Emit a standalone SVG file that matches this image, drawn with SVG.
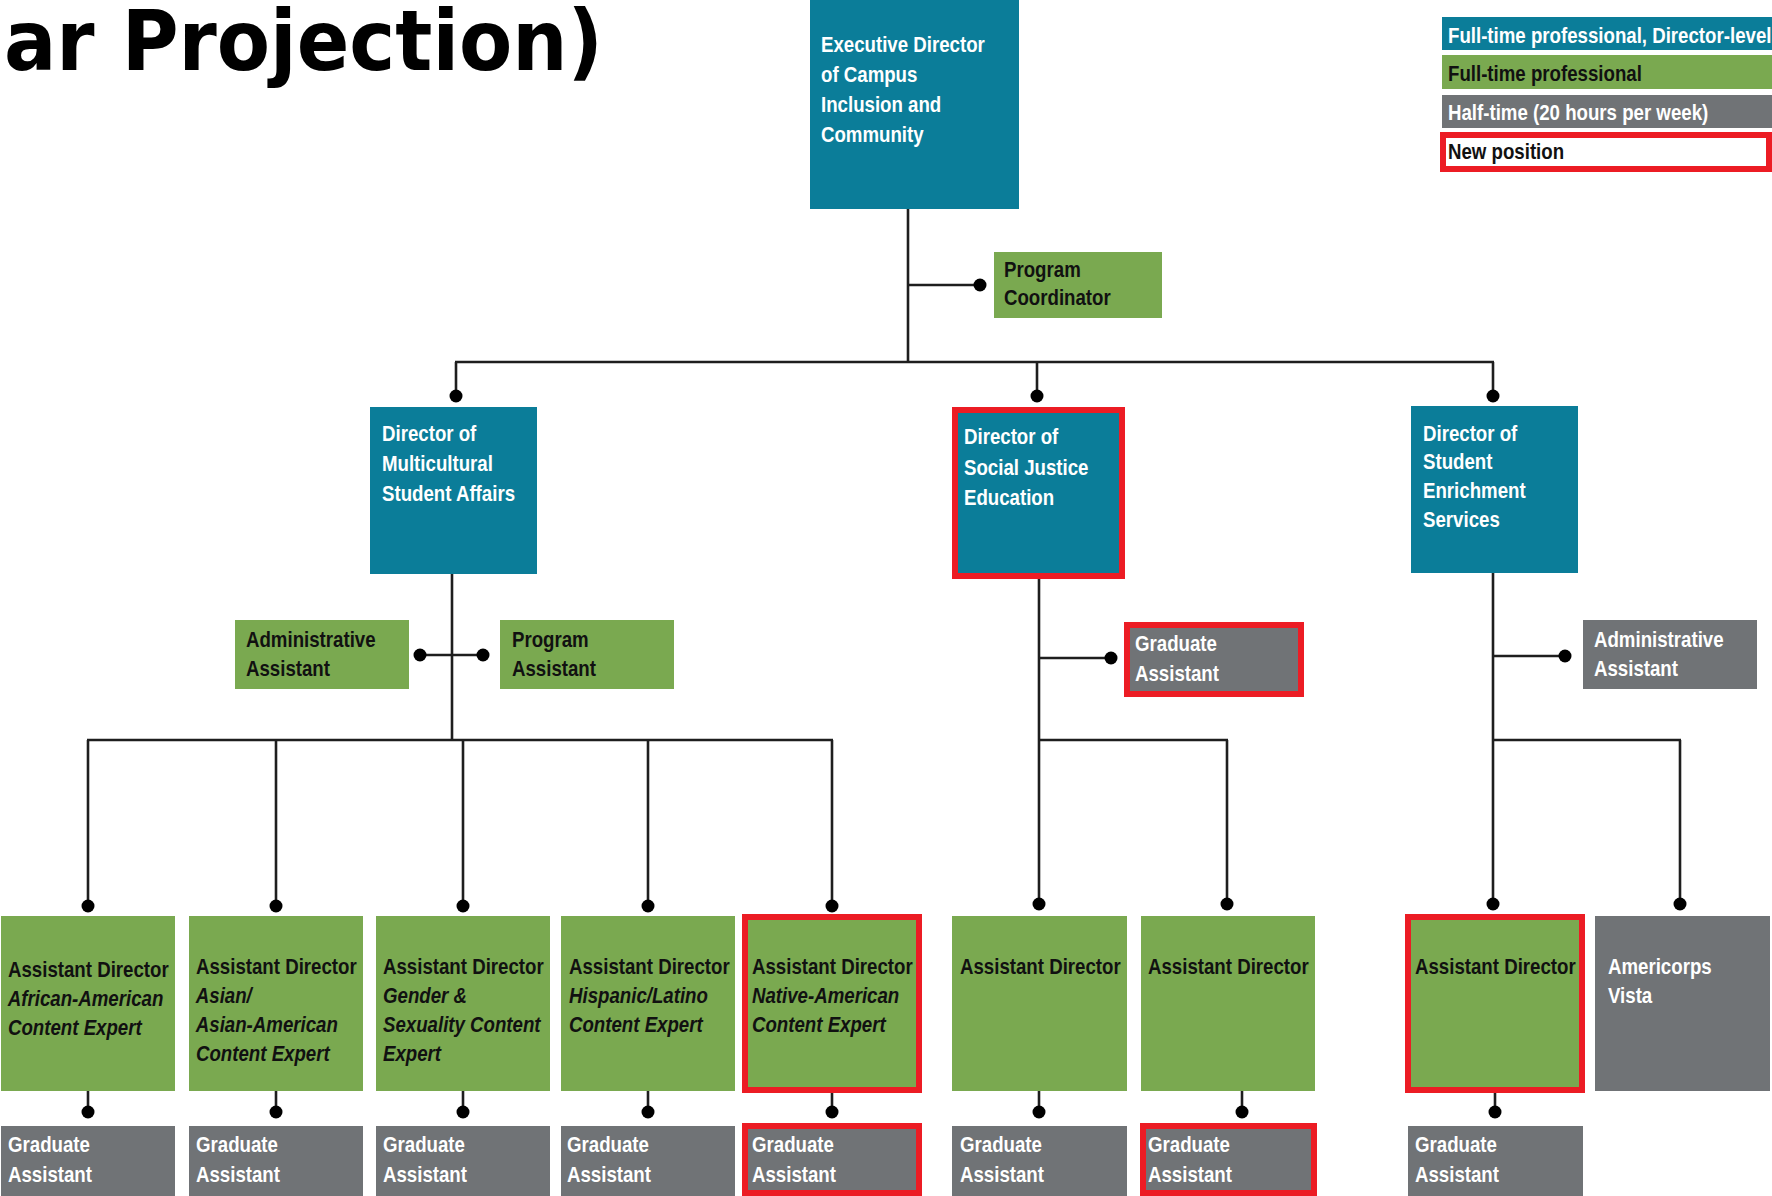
<svg xmlns="http://www.w3.org/2000/svg" width="1772" height="1196" viewBox="0 0 1772 1196">
<style>
.teal{fill:#0b7d99}
.green{fill:#7aa950}
.gray{fill:#707376}
.newpos{stroke:#ec1c24;stroke-width:6}
.t{font-family:'Liberation Sans',Arial,sans-serif;font-weight:bold;font-size:22.5px;transform:scaleX(0.83);transform-box:fill-box;transform-origin:0 0}
.w{fill:#ffffff}
.b{fill:#111111}
.i{font-style:italic}
.conn line{stroke:#1e1e1e;stroke-width:2.6}
.conn circle{fill:#000000}
.title{font-family:'DejaVu Sans','Liberation Sans',sans-serif;font-weight:bold;font-size:84px;fill:#000}
</style>
<rect width="1772" height="1196" fill="#ffffff"/>
<text class="title" x="4" y="70" textLength="599" lengthAdjust="spacingAndGlyphs">ar Projection)</text>

<g id="legend">
<rect class="teal" x="1442" y="17" width="330" height="33"/>
<text class="t w" x="1448" y="43">Full-time professional, Director-level</text>
<rect class="green" x="1442" y="55" width="330" height="34"/>
<text class="t b" x="1448" y="81">Full-time professional</text>
<rect class="gray" x="1442" y="95" width="330" height="33"/>
<text class="t w" x="1448" y="120">Half-time (20 hours per week)</text>
<rect class="newpos" x="1443" y="135" width="326" height="34" fill="#ffffff"/>
<text class="t b" x="1448" y="159">New position</text>
</g>

<g id="connectors" class="conn">
<line x1="908" y1="209" x2="908" y2="362"/>
<line x1="908" y1="285" x2="980" y2="285"/>
<circle cx="980" cy="285" r="6.5"/>
<line x1="455" y1="362" x2="1494" y2="362"/>
<line x1="456" y1="362" x2="456" y2="396"/>
<line x1="1037" y1="362" x2="1037" y2="396"/>
<line x1="1493" y1="362" x2="1493" y2="396"/>
<circle cx="456" cy="396" r="6.5"/>
<circle cx="1037" cy="396" r="6.5"/>
<circle cx="1493" cy="396" r="6.5"/>
<line x1="452" y1="574" x2="452" y2="740"/>
<line x1="420" y1="655" x2="483" y2="655"/>
<circle cx="420" cy="655" r="6.5"/>
<circle cx="483" cy="655" r="6.5"/>
<line x1="87" y1="740" x2="833" y2="740"/>
<line x1="88" y1="740" x2="88" y2="906"/>
<line x1="276" y1="740" x2="276" y2="906"/>
<line x1="463" y1="740" x2="463" y2="906"/>
<line x1="648" y1="740" x2="648" y2="906"/>
<line x1="832" y1="740" x2="832" y2="906"/>
<circle cx="88" cy="906" r="6.5"/>
<circle cx="276" cy="906" r="6.5"/>
<circle cx="463" cy="906" r="6.5"/>
<circle cx="648" cy="906" r="6.5"/>
<circle cx="832" cy="906" r="6.5"/>
<line x1="1039" y1="579" x2="1039" y2="904"/>
<line x1="1039" y1="658" x2="1111" y2="658"/>
<circle cx="1111" cy="658" r="6.5"/>
<line x1="1039" y1="740" x2="1228" y2="740"/>
<line x1="1227" y1="740" x2="1227" y2="904"/>
<circle cx="1039" cy="904" r="6.5"/>
<circle cx="1227" cy="904" r="6.5"/>
<line x1="1493" y1="573" x2="1493" y2="904"/>
<line x1="1493" y1="656" x2="1565" y2="656"/>
<circle cx="1565" cy="656" r="6.5"/>
<line x1="1493" y1="740" x2="1681" y2="740"/>
<line x1="1680" y1="740" x2="1680" y2="904"/>
<circle cx="1493" cy="904" r="6.5"/>
<circle cx="1680" cy="904" r="6.5"/>
<line x1="88" y1="1091" x2="88" y2="1112"/>
<line x1="276" y1="1091" x2="276" y2="1112"/>
<line x1="463" y1="1091" x2="463" y2="1112"/>
<line x1="648" y1="1091" x2="648" y2="1112"/>
<line x1="832" y1="1093" x2="832" y2="1112"/>
<line x1="1039" y1="1091" x2="1039" y2="1112"/>
<line x1="1242" y1="1091" x2="1242" y2="1112"/>
<line x1="1495" y1="1093" x2="1495" y2="1112"/>
<circle cx="88" cy="1112" r="6.5"/>
<circle cx="276" cy="1112" r="6.5"/>
<circle cx="463" cy="1112" r="6.5"/>
<circle cx="648" cy="1112" r="6.5"/>
<circle cx="832" cy="1112" r="6.5"/>
<circle cx="1039" cy="1112" r="6.5"/>
<circle cx="1242" cy="1112" r="6.5"/>
<circle cx="1495" cy="1112" r="6.5"/>
</g>

<g id="exec">
<rect class="teal" x="810" y="0" width="209" height="209"/>
<text class="t w" x="821" y="52">Executive Director</text>
<text class="t w" x="821" y="82">of Campus</text>
<text class="t w" x="821" y="112">Inclusion and</text>
<text class="t w" x="821" y="142">Community</text>
</g>
<g id="program-coordinator">
<rect class="green" x="994" y="252" width="168" height="66"/>
<text class="t b" x="1004" y="277">Program</text>
<text class="t b" x="1004" y="305">Coordinator</text>
</g>

<g id="dir-msa">
<rect class="teal" x="370" y="407" width="167" height="167"/>
<text class="t w" x="382" y="441">Director of</text>
<text class="t w" x="382" y="471">Multicultural</text>
<text class="t w" x="382" y="501">Student Affairs</text>
</g>
<g id="admin-msa">
<rect class="green" x="235" y="620" width="174" height="69"/>
<text class="t b" x="246" y="647">Administrative</text>
<text class="t b" x="246" y="676">Assistant</text>
</g>
<g id="prog-asst">
<rect class="green" x="500" y="620" width="174" height="69"/>
<text class="t b" x="512" y="647">Program</text>
<text class="t b" x="512" y="676">Assistant</text>
</g>

<g id="dir-sje">
<rect class="teal newpos" x="955" y="410" width="167" height="166"/>
<text class="t w" x="964" y="444">Director of</text>
<text class="t w" x="964" y="475">Social Justice</text>
<text class="t w" x="964" y="505">Education</text>
</g>
<g id="ga-sje">
<rect class="gray newpos" x="1127" y="625" width="174" height="69"/>
<text class="t w" x="1135" y="651">Graduate</text>
<text class="t w" x="1135" y="681">Assistant</text>
</g>

<g id="dir-ses">
<rect class="teal" x="1411" y="406" width="167" height="167"/>
<text class="t w" x="1423" y="441">Director of</text>
<text class="t w" x="1423" y="469">Student</text>
<text class="t w" x="1423" y="498">Enrichment</text>
<text class="t w" x="1423" y="527">Services</text>
</g>
<g id="admin-ses">
<rect class="gray" x="1583" y="620" width="174" height="69"/>
<text class="t w" x="1594" y="647">Administrative</text>
<text class="t w" x="1594" y="676">Assistant</text>
</g>

<g id="ad-african">
<rect class="green" x="1" y="916" width="174" height="175"/>
<text class="t b" x="8" y="977">Assistant Director</text>
<text class="t b i" x="8" y="1006">African-American</text>
<text class="t b i" x="8" y="1035">Content Expert</text>
</g>
<g id="ad-asian">
<rect class="green" x="189" y="916" width="174" height="175"/>
<text class="t b" x="196" y="974">Assistant Director</text>
<text class="t b i" x="196" y="1003">Asian/</text>
<text class="t b i" x="196" y="1032">Asian-American</text>
<text class="t b i" x="196" y="1061">Content Expert</text>
</g>
<g id="ad-gender">
<rect class="green" x="376" y="916" width="174" height="175"/>
<text class="t b" x="383" y="974">Assistant Director</text>
<text class="t b i" x="383" y="1003">Gender &amp;</text>
<text class="t b i" x="383" y="1032">Sexuality Content</text>
<text class="t b i" x="383" y="1061">Expert</text>
</g>
<g id="ad-hispanic">
<rect class="green" x="561" y="916" width="174" height="175"/>
<text class="t b" x="569" y="974">Assistant Director</text>
<text class="t b i" x="569" y="1003">Hispanic/Latino</text>
<text class="t b i" x="569" y="1032">Content Expert</text>
</g>
<g id="ad-native">
<rect class="green newpos" x="745" y="917" width="174" height="173"/>
<text class="t b" x="752" y="974">Assistant Director</text>
<text class="t b i" x="752" y="1003">Native-American</text>
<text class="t b i" x="752" y="1032">Content Expert</text>
</g>
<g id="ad-sje-1">
<rect class="green" x="952" y="916" width="175" height="175"/>
<text class="t b" x="960" y="974">Assistant Director</text>
</g>
<g id="ad-sje-2">
<rect class="green" x="1141" y="916" width="174" height="175"/>
<text class="t b" x="1148" y="974">Assistant Director</text>
</g>
<g id="ad-ses">
<rect class="green newpos" x="1408" y="917" width="174" height="173"/>
<text class="t b" x="1415" y="974">Assistant Director</text>
</g>
<g id="americorps">
<rect class="gray" x="1595" y="916" width="175" height="175"/>
<text class="t w" x="1608" y="974">Americorps</text>
<text class="t w" x="1608" y="1003">Vista</text>
</g>

<g id="ga-1"><rect class="gray" x="1" y="1126" width="174" height="80"/><text class="t w" x="8" y="1152">Graduate</text><text class="t w" x="8" y="1182">Assistant</text></g>
<g id="ga-2"><rect class="gray" x="189" y="1126" width="174" height="80"/><text class="t w" x="196" y="1152">Graduate</text><text class="t w" x="196" y="1182">Assistant</text></g>
<g id="ga-3"><rect class="gray" x="376" y="1126" width="174" height="80"/><text class="t w" x="383" y="1152">Graduate</text><text class="t w" x="383" y="1182">Assistant</text></g>
<g id="ga-4"><rect class="gray" x="561" y="1126" width="174" height="80"/><text class="t w" x="567" y="1152">Graduate</text><text class="t w" x="567" y="1182">Assistant</text></g>
<g id="ga-5"><rect class="gray newpos" x="745" y="1126" width="174" height="67"/><text class="t w" x="752" y="1152">Graduate</text><text class="t w" x="752" y="1182">Assistant</text></g>
<g id="ga-6"><rect class="gray" x="952" y="1126" width="175" height="80"/><text class="t w" x="960" y="1152">Graduate</text><text class="t w" x="960" y="1182">Assistant</text></g>
<g id="ga-7"><rect class="gray newpos" x="1143" y="1126" width="171" height="67"/><text class="t w" x="1148" y="1152">Graduate</text><text class="t w" x="1148" y="1182">Assistant</text></g>
<g id="ga-8"><rect class="gray" x="1408" y="1126" width="175" height="80"/><text class="t w" x="1415" y="1152">Graduate</text><text class="t w" x="1415" y="1182">Assistant</text></g>
</svg>
